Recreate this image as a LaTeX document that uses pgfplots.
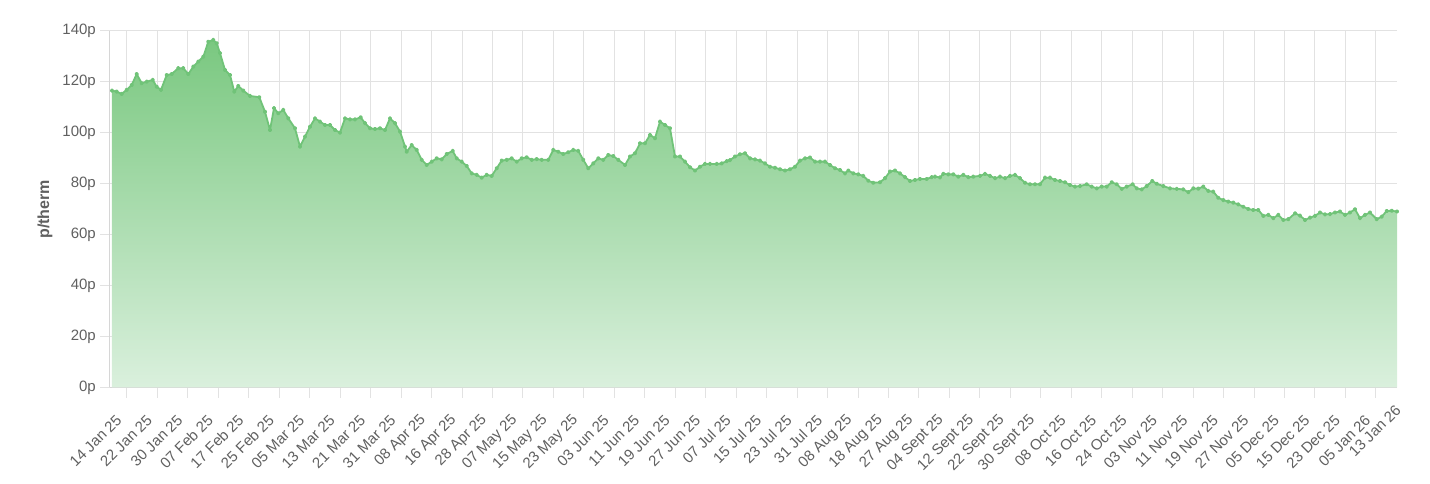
\documentclass[border=0pt]{standalone}
\usepackage{fontspec}
\setmainfont{Liberation Sans}
\usepackage{pgfplots}
\usepackage{pgfplotstable}
\pgfplotsset{compat=1.18}

\definecolor{fillTop}{RGB}{122,200,128}
\definecolor{fillBot}{RGB}{218,240,221}
\definecolor{lineGreen}{RGB}{112,195,120}
\definecolor{gridGray}{RGB}{226,226,226}
\definecolor{axisGray}{RGB}{214,214,214}
\definecolor{txtGray}{RGB}{96,96,96}

\newcommand{\tickfont}{\fontsize{15}{18}\selectfont}

% pos = horizontal position along the date axis, val = price in p/therm
\pgfplotstableread{
pos val
0 116.6
4.7 116.2
9.7 115.3
14.7 116.9
19.7 118.8
24.7 123.1
29.7 119.5
34.7 120.1
40.7 120.8
44.7 118.1
49 116.9
54.7 122.7
59.7 123.1
66.3 125.4
71.3 125.4
76.3 123.1
81.3 126.0
86.3 128.0
91.3 129.9
96.3 135.8
101.3 136.5
104.7 135.2
108 131.3
113 124.7
118 122.7
122.3 116.2
126.3 118.4
131.3 116.6
138 114.5
147.3 114.0
153 108.3
158 101.1
162 109.7
166.3 107.7
171.3 109.0
176.3 105.7
183 101.8
188 94.6
193 98.5
198 102.4
203 105.7
208 104.4
213 103.1
218 103.1
223 101.1
228 100.1
233 105.7
238 105.3
243 105.3
248.7 106.1
253 103.8
258 101.8
263 101.5
268 101.8
273 101.1
278 105.7
283 103.8
288 100.5
293 94.6
294.7 92.6
299.7 95.2
304.7 93.3
309.7 89.4
314.7 87.4
319.7 88.7
324.7 90.0
329.7 89.6
334.7 91.7
340.7 92.9
344.7 90.0
349.7 88.7
354.7 87.0
359.7 84.1
364.7 83.5
369.7 82.4
374.7 83.5
379.7 83.1
384.7 86.1
389.7 89.1
394.7 89.4
399.7 90.0
404.7 88.7
409.7 90.0
414.7 90.4
419.7 89.4
424.7 89.7
429.7 89.4
436.3 89.4
441.3 93.3
446.3 92.6
451.3 91.7
456.3 92.4
461.3 93.3
466.3 92.9
471.3 89.4
476.3 86.1
481.3 88.0
486.3 90.0
491.3 89.4
496.3 91.3
501.3 90.9
506.3 89.4
513 87.4
518 90.7
523 92.0
528 95.9
533 95.9
538 99.2
543 97.9
548 104.4
553 103.1
558 101.8
563 90.7
568 90.7
573 88.7
578 86.5
583 85.2
588 86.7
593 87.8
598 87.8
604.7 87.8
609.7 88.0
614.7 88.9
618 89.3
623 90.7
628 91.6
633 92.0
638 90.0
643 89.6
648 89.1
653 88.0
658 86.7
663 86.3
668 85.7
673 85.2
678 85.7
683 86.7
688 89.1
693 90.0
698 90.3
703 88.7
708 88.7
713 88.7
718 87.4
723 86.1
728 85.4
733 84.1
736.3 85.2
741.3 84.1
746.3 83.7
751.3 83.1
756.3 81.2
761.3 80.4
768 80.6
773 82.2
778 84.8
783 85.2
788 84.1
793 82.6
798 81.1
803 81.5
808 81.9
814.7 81.9
819.7 82.6
823 82.8
828 82.5
831.3 83.9
836.3 83.7
841.3 83.7
846.3 82.8
851.3 83.5
856.3 82.6
861.3 82.8
868 83.1
873 83.9
878 83.1
883 82.2
888 82.8
893 82.2
898 83.1
903 83.5
908 82.2
913 80.4
918 79.8
923 79.8
928 79.8
933 82.4
938 82.4
943 81.5
948 81.1
953 80.6
958 79.5
963 78.9
968 79.1
974.7 79.8
979.7 78.9
984.7 78.2
989.7 78.9
994.7 78.9
999.7 80.6
1004.7 79.8
1009.7 78.0
1014.7 78.9
1020.7 79.8
1024.7 78.2
1029.7 77.8
1034.7 79.1
1040.3 81.1
1044.7 80.0
1051.3 79.1
1058 78.2
1064.7 78.0
1071.3 77.8
1076.3 76.7
1081.3 78.2
1086.3 78.1
1091.3 78.9
1096.3 77.2
1101.3 76.9
1106.3 74.5
1111.3 73.6
1116.3 73.0
1121.3 72.6
1126.3 71.9
1131.3 71.0
1136.3 70.1
1141.3 69.7
1146.3 69.7
1151.3 67.4
1156.3 67.8
1161.3 66.5
1166.3 67.8
1171.3 65.8
1176.3 66.1
1183 68.4
1188 67.5
1193 65.8
1198 66.7
1203 67.4
1208 68.7
1213 68.0
1218 68.1
1223 68.7
1228 69.1
1233 67.8
1238 68.7
1243 70.0
1248 66.5
1253 67.8
1258 68.7
1264.7 66.1
1269.7 67.1
1274.7 69.3
1279.7 69.4
1285 69.1
}\gasdata

\begin{document}
\begin{tikzpicture}
\path[use as bounding box] (-110pt,-96.5pt) rectangle (1320pt,387.5pt);
\begin{axis}[
    at={(0pt,0pt)}, anchor=south west,
    scale only axis, width=1287pt, height=356.5pt,
    xmin=-2, xmax=1285, ymin=0, ymax=140,
    axis x line*=bottom, axis y line*=left,
    axis line style={draw=axisGray, line width=1pt},
    grid=major, grid style={draw=gridGray, line width=1pt},
    tick align=outside, major tick length=10pt,
    tick style={draw=gridGray, line width=1pt},
    xtick={15,45.46,...,1265},
    xticklabels={14 Jan 25,22 Jan 25,30 Jan 25,07 Feb 25,17 Feb 25,25 Feb 25,
      05 Mar 25,13 Mar 25,21 Mar 25,31 Mar 25,08 Apr 25,16 Apr 25,28 Apr 25,
      07 May 25,15 May 25,23 May 25,03 Jun 25,11 Jun 25,19 Jun 25,27 Jun 25,
      07 Jul 25,15 Jul 25,23 Jul 25,31 Jul 25,08 Aug 25,18 Aug 25,27 Aug 25,
      04 Sept 25,12 Sept 25,22 Sept 25,30 Sept 25,08 Oct 25,16 Oct 25,24 Oct 25,
      03 Nov 25,11 Nov 25,19 Nov 25,27 Nov 25,05 Dec 25,15 Dec 25,23 Dec 25,
      05 Jan 26},
    ytick={0,20,...,140},
    yticklabels={0p,20p,40p,60p,80p,100p,120p,140p},
    ticklabel style={font=\tickfont, text=txtGray},
    xticklabel style={inner sep=0pt, xshift=-8pt, yshift=-20pt, rotate=45, anchor=east},
    yticklabel style={inner sep=0pt, anchor=east, xshift=-4pt},
    ylabel={p/therm},
    every axis y label/.style={at={(axis description cs:0,0.5)}, xshift=-65pt,
      rotate=90, anchor=center, font=\bfseries\fontsize{16}{19}\selectfont, text=txtGray},
    clip=false,
]
\addplot[draw=none, top color=fillTop, bottom color=fillBot]
    table[x=pos, y=val] {\gasdata} \closedcycle;
\addplot[draw=lineGreen, line width=1.8pt, line join=round, mark=*, mark size=1.3pt,
    mark options={draw=none, fill=lineGreen}]
    table[x=pos, y=val] {\gasdata};
\node[font=\tickfont, text=txtGray, inner sep=0pt, xshift=-8pt, yshift=-20pt,
    rotate=45, anchor=east] at (axis cs:1294.3,0) {13 Jan 26};
\end{axis}
\end{tikzpicture}
\end{document}
